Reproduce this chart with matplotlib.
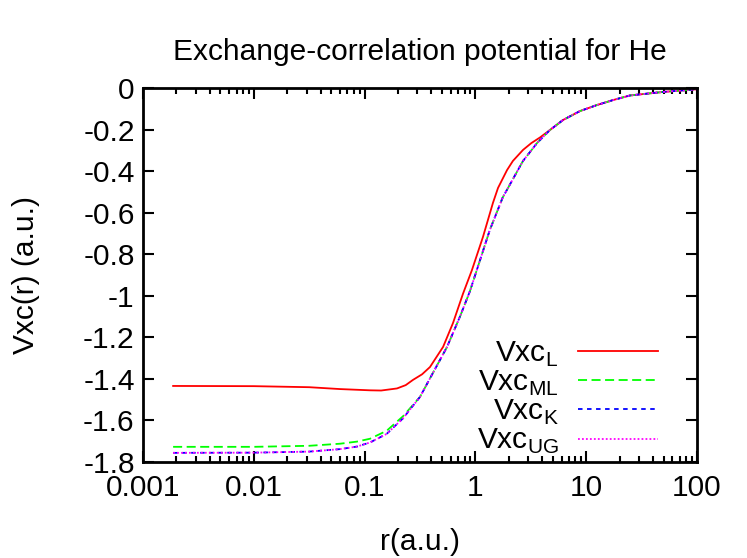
import matplotlib
matplotlib.use("Agg")
import matplotlib.pyplot as plt
import numpy as np

plt.rcParams['font.family'] = ['Liberation Sans', 'DejaVu Sans']
plt.rcParams['mathtext.fontset'] = 'custom'
plt.rcParams['mathtext.rm'] = 'Liberation Sans'

# values (r in a.u.)
r_L = [0.00187, 0.01, 0.0316, 0.060, 0.112, 0.141, 0.196, 0.235, 0.273, 0.33, 0.389, 0.511,
       0.628, 0.773, 0.931, 1.17, 1.44, 1.60, 1.93, 2.18, 2.69, 3.2, 3.83, 4.71,
       6.18, 8.79, 12.5, 17.5, 24.8, 49.3, 100.0]
vxc_L = [-1.434, -1.435, -1.440, -1.449, -1.455, -1.456, -1.446, -1.430, -1.405, -1.378, -1.343, -1.246,
         -1.131, -0.990, -0.876, -0.717, -0.553, -0.481, -0.395, -0.351, -0.298, -0.265, -0.238, -0.202,
         -0.154, -0.111, -0.082, -0.058, -0.036, -0.019, -0.006]

r_K = [0.00187, 0.01, 0.0316, 0.060, 0.085, 0.112, 0.158, 0.222, 0.316, 0.414, 0.555,
       0.726, 0.89, 1.03, 1.35, 1.77, 1.97, 2.42, 2.69, 3.60, 4.71,
       6.18, 8.79, 12.5, 17.5, 24.8, 49.3, 100.0]
vxc_ML = [-1.727, -1.727, -1.722, -1.712, -1.702, -1.688, -1.650, -1.580, -1.487, -1.371, -1.246,
          -1.100, -0.980, -0.876, -0.683, -0.525, -0.481, -0.395, -0.351, -0.265, -0.202,
          -0.154, -0.111, -0.082, -0.058, -0.036, -0.019, -0.006]
vxc_K = [-1.756, -1.755, -1.750, -1.738, -1.726, -1.706, -1.665, -1.590, -1.487, -1.371, -1.246,
         -1.100, -0.980, -0.876, -0.683, -0.525, -0.481, -0.395, -0.351, -0.265, -0.202,
         -0.154, -0.111, -0.082, -0.058, -0.036, -0.019, -0.006]
vxc_UG = [-1.756, -1.755, -1.750, -1.738, -1.726, -1.706, -1.665, -1.590, -1.487, -1.371, -1.246,
          -1.100, -0.980, -0.876, -0.683, -0.525, -0.481, -0.395, -0.351, -0.265, -0.202,
          -0.154, -0.111, -0.082, -0.058, -0.036, -0.019, -0.006]

labels = [r'Vxc$_\mathregular{L}$', r'Vxc$_\mathregular{ML}$',
          r'Vxc$_\mathregular{K}$', r'Vxc$_\mathregular{UG}$']

fs = 21.5

fig = plt.figure(figsize=(7.47, 5.58), dpi=100)
ax = fig.add_axes([143/747, 1-462/558, 554/747, 374/558])

ax.plot(r_L, vxc_L, color="#ff0000", lw=1.3, label=labels[0])
ax.plot(r_K, vxc_ML, color="#00ff00", lw=1.3, ls=(0, (5, 2.5)), label=labels[1])
ax.plot(r_K, vxc_K, color="#0000ff", lw=1.3, ls=(0, (2.5, 2.5)), label=labels[2])
ax.plot(r_K, vxc_UG, color="#ff00ff", lw=1.3, ls=(0, (1, 1.2)), label=labels[3])

ax.set_xscale("log")
ax.set_xlim(0.001, 100)
ax.set_ylim(-1.8, 0)
ax.set_xticks([0.001, 0.01, 0.1, 1, 10, 100])
ax.set_xticklabels(["0.001", "0.01", "0.1", "1", "10", "100"])
ax.set_yticks(np.arange(-1.8, 0.01, 0.2))
ax.set_yticklabels(["-1.8", "-1.6", "-1.4", "-1.2", "-1", "-0.8", "-0.6", "-0.4", "-0.2", "0"])

ax.tick_params(which="both", direction="in", top=True, right=True, labelsize=fs, width=1.5)
ax.tick_params(axis="y", pad=6)
ax.tick_params(axis="x", pad=9)
ax.tick_params(which="major", length=8)
ax.tick_params(which="minor", length=4)
for s in ax.spines.values():
    s.set_linewidth(2)

ax.set_xlabel("r(a.u.)", fontsize=fs, labelpad=18)
ax.set_ylabel("Vxc(r) (a.u.)", fontsize=fs, labelpad=31)
ax.set_title("Exchange-correlation potential for He", fontsize=fs, pad=20)

ax.legend(loc="lower right", bbox_to_anchor=(0.968, -0.04), frameon=False, markerfirst=False,
          fontsize=fs, handlelength=2.7, handletextpad=0.65, labelspacing=0.0,
          borderaxespad=0.3)

fig.savefig("out.png", dpi=100)
